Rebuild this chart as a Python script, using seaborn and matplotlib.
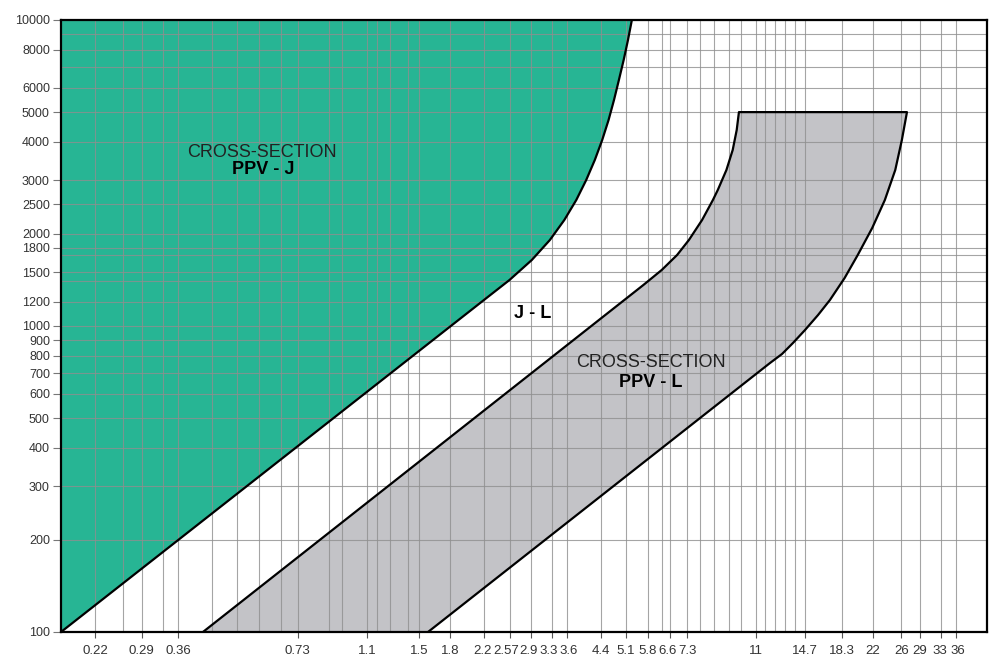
import matplotlib
matplotlib.use("Agg")
import matplotlib.pyplot as plt
import matplotlib.transforms as mtransforms
import seaborn as sns
import pandas as pd
from matplotlib.ticker import FixedLocator, FixedFormatter, NullFormatter

sns.set_theme(style="white")
plt.rcParams['font.family'] = ['Liberation Sans', 'DejaVu Sans']

# ---------------- data ----------------
# PPV-J region boundary (lower-right edge of the green area), bottom -> top
ppv_j_x = [0.18, 2.20, 2.56, 2.92, 3.25, 3.54, 3.80, 4.03, 4.24, 4.43, 4.60, 4.75,
           4.89, 5.03, 5.16, 5.28]
ppv_j_y = [100, 1216, 1414, 1643, 1910, 2220, 2581, 3000, 3487, 4054, 4712, 5477,
           6368, 7402, 8604, 10000]

# PPV-L region: left edge bottom -> top
ppv_l_left_x = [0.417, 5.65, 6.30, 6.90, 7.40, 8.00, 8.53, 8.78, 9.24, 9.59, 9.82, 9.95]
ppv_l_left_y = [100, 1361, 1524, 1706, 1910, 2220, 2581, 2783, 3235, 3760, 4370, 5000]
# PPV-L region: right edge top -> bottom
ppv_l_right_x = [26.9, 26.1, 25.1, 23.6, 21.9, 20.1, 18.6, 17.05, 15.89, 14.71, 13.70,
                 12.84, 11.96, 1.58]
ppv_l_right_y = [5000, 4054, 3235, 2581, 2091, 1706, 1435, 1216, 1086, 970, 880,
                 810, 757, 100]

x_limits = (0.18, 43.2)
y_limits = (100, 10000)

x_tick_values = [0.22, 0.29, 0.36, 0.73, 1.1, 1.5, 1.8, 2.2, 2.57, 2.9, 3.3, 3.6,
                 4.4, 5.1, 5.8, 6.6, 7.3, 11, 14.7, 18.3, 22, 26, 29, 33, 36]
x_tick_labels = ["0.22", "0.29", "0.36", "0.73", "1.1", "1.5", "1.8", "2.2", "2.57",
                 "2.9", "3.3", "3.6", "4.4", "5.1", "5.8", "6.6", "7.3", "11", "14.7",
                 "18.3", "22", "26", "29", "33", "36"]
x_grid_extra = [0.26, 0.33, 0.44, 0.51, 0.58, 0.66, 0.88, 0.95, 1.17, 1.26, 1.4,
                6.3, 7.9, 8.6, 9.4, 10.1, 11.6, 12.3, 13.1, 13.9]

y_tick_values = [100, 200, 300, 400, 500, 600, 700, 800, 900, 1000, 1200, 1500, 1800,
                 2000, 2500, 3000, 4000, 5000, 6000, 8000, 10000]
y_tick_labels = [str(v) for v in y_tick_values]
y_grid_extra = [1400, 1700, 7000, 9000]

labels = ["CROSS-SECTION", "PPV - J", "J - L", "CROSS-SECTION", "PPV - L"]

# small horizontal nudges (pixels) for crowded tick labels
label_nudge = {"2.2": -1, "2.57": -4, "2.9": -2, "3.3": -4, "3.6": 1, "6.6": -2,
               "7.3": 1, "33": -2, "36": 2}

# ---------------- figure ----------------
fig = plt.figure(figsize=(9.92, 6.57), dpi=100)
ax = fig.add_axes([61 / 992, 25 / 657, 926 / 992, 612 / 657])

green = "#27b594"
grey = "#c3c3c7"

# filled regions
gx = ppv_j_x + [x_limits[0], x_limits[0]]
gy = ppv_j_y + [y_limits[1], y_limits[0]]
ax.fill(gx, gy, color=green, lw=0, zorder=1)

lx = ppv_l_left_x + ppv_l_right_x
ly = ppv_l_left_y + ppv_l_right_y
ax.fill(lx, ly, color=grey, lw=0, zorder=1)

# boundary lines with seaborn
df_j = pd.DataFrame({"x": ppv_j_x, "y": ppv_j_y})
df_l = pd.DataFrame({"x": lx, "y": ly})
sns.lineplot(data=df_j, x="x", y="y", sort=False, estimator=None, color="black",
             lw=1.6, ax=ax, zorder=3)
sns.lineplot(data=df_l, x="x", y="y", sort=False, estimator=None, color="black",
             lw=1.6, ax=ax, zorder=3)

ax.set_xscale("log")
ax.set_yscale("log")
ax.set_xlim(*x_limits)
ax.set_ylim(*y_limits)
ax.set_xlabel("")
ax.set_ylabel("")

ax.xaxis.set_major_locator(FixedLocator(x_tick_values))
ax.xaxis.set_major_formatter(FixedFormatter(x_tick_labels))
ax.xaxis.set_minor_locator(FixedLocator(x_grid_extra))
ax.xaxis.set_minor_formatter(NullFormatter())
ax.yaxis.set_major_locator(FixedLocator(y_tick_values))
ax.yaxis.set_major_formatter(FixedFormatter(y_tick_labels))
ax.yaxis.set_minor_locator(FixedLocator(y_grid_extra))
ax.yaxis.set_minor_formatter(NullFormatter())

ax.tick_params(axis="x", which="major", direction="out", length=4, width=0.8,
               color="#555555", pad=5, labelsize=9.5, labelcolor="#333333", bottom=True)
ax.tick_params(axis="y", which="major", direction="out", length=6, width=0.8,
               color="#777777", pad=2, labelsize=9, labelcolor="#333333", left=True)
ax.tick_params(which="minor", length=0)

ax.grid(True, which="both", axis="both", color="#8f8f8f", lw=0.8, alpha=0.8)
ax.set_axisbelow("line")

for s in ax.spines.values():
    s.set_visible(True)
    s.set_color("black")
    s.set_linewidth(1.6)
    s.set_zorder(4)

fig.canvas.draw()
for lab in ax.get_xticklabels():
    dx = label_nudge.get(lab.get_text(), 0)
    if dx:
        off = mtransforms.ScaledTranslation(dx / 100.0, 0, fig.dpi_scale_trans)
        lab.set_transform(lab.get_transform() + off)

tc = "#222222"
ax.text(0.217, 0.784, labels[0], transform=ax.transAxes, ha="center", va="center",
        fontsize=13, color=tc)
ax.text(0.218, 0.755, labels[1], transform=ax.transAxes, ha="center", va="center",
        fontsize=13, fontweight="bold", color="black")
ax.text(0.509, 0.520, labels[2], transform=ax.transAxes, ha="center", va="center",
        fontsize=13, fontweight="bold", color="black")
ax.text(0.637, 0.440, labels[3], transform=ax.transAxes, ha="center", va="center",
        fontsize=13, color=tc)
ax.text(0.637, 0.408, labels[4], transform=ax.transAxes, ha="center", va="center",
        fontsize=13, fontweight="bold", color="black")

fig.savefig("out.png", dpi=100)
